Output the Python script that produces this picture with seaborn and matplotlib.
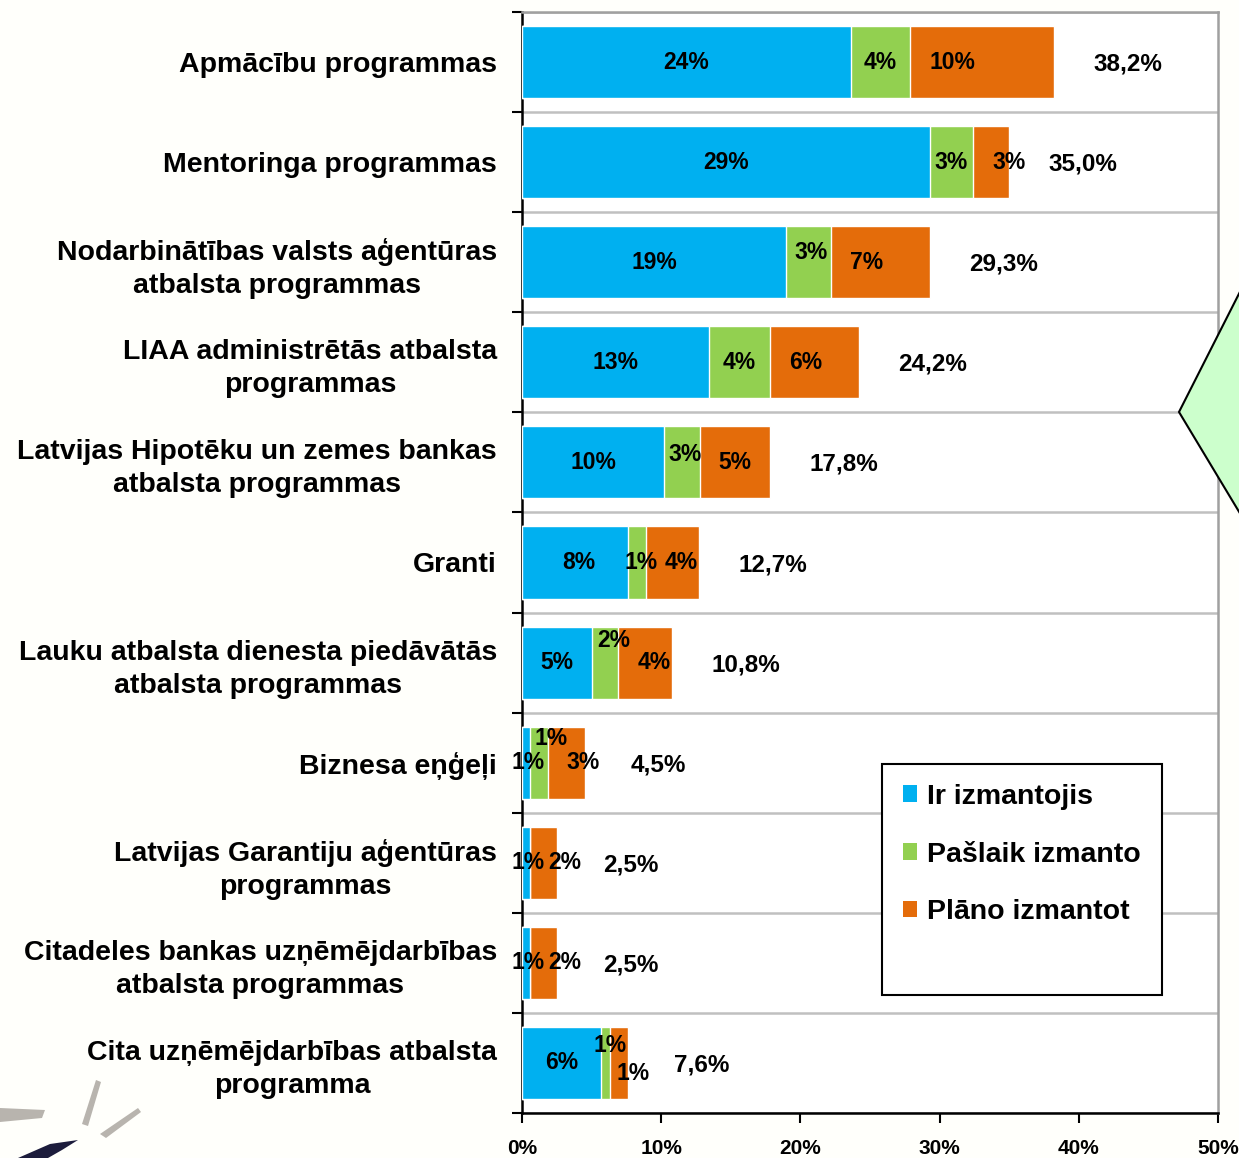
import matplotlib
matplotlib.use("Agg")
import matplotlib.pyplot as plt
import seaborn as sns
import pandas as pd
from matplotlib.patches import Patch, Rectangle, Polygon

# data (percent of respondents)
programs = [
    "Apmācību programmas",
    "Mentoringa programmas",
    "Nodarbinātības valsts aģentūras\natbalsta programmas",
    "LIAA administrētās atbalsta\nprogrammas",
    "Latvijas Hipotēku un zemes bankas\natbalsta programmas",
    "Granti",
    "Lauku atbalsta dienesta piedāvātās\natbalsta programmas",
    "Biznesa eņģeļi",
    "Latvijas Garantiju aģentūras\nprogrammas",
    "Citadeles bankas uzņēmējdarbības\natbalsta programmas",
    "Cita uzņēmējdarbības atbalsta\nprogramma",
]
used = [23.6, 29.3, 19.0, 13.4, 10.2, 7.6, 5.0, 0.6, 0.6, 0.6, 5.7]
using_now = [4.3, 3.1, 3.2, 4.4, 2.6, 1.3, 1.9, 1.3, 0.0, 0.0, 0.6]
planning = [10.3, 2.6, 7.1, 6.4, 5.0, 3.8, 3.9, 2.6, 1.9, 1.9, 1.3]
series_names = ["Ir izmantojis", "Pašlaik izmanto", "Plāno izmantot"]
colors = ["#00B0F0", "#92D050", "#E46C0A"]
x_ticks = [0, 10, 20, 30, 40, 50]

# hand nudges for the crowded segment labels, (row, series): (dx %, dy rows)
nudge = {
    (0, 2): (-2.1, 0), (1, 2): (1.3, 0),
    (2, 1): (0.2, -0.1), (2, 2): (-1.0, 0), (3, 2): (-0.6, 0),
    (4, 1): (0.2, -0.08),
    (5, 0): (0.3, 0), (5, 1): (0.3, 0), (5, 2): (0.65, 0),
    (6, 1): (0.65, -0.22), (6, 2): (0.65, 0),
    (7, 0): (0.15, 0), (7, 1): (0.85, -0.24), (7, 2): (1.2, 0),
    (8, 0): (0.15, 0), (8, 2): (1.5, 0),
    (9, 0): (0.15, 0), (9, 2): (1.5, 0),
    (10, 1): (0.3, -0.17), (10, 2): (1.0, 0.11),
}

df = pd.DataFrame({"program": programs, "used": used,
                   "now": using_now, "plan": planning})
df["c1"] = df["used"]
df["c2"] = df["used"] + df["now"]
df["c3"] = df["c2"] + df["plan"]

sns.set_style("white")
plt.rcParams["font.family"] = ["Liberation Sans", "DejaVu Sans"]
plt.rcParams["font.weight"] = "bold"
for key in ["text.color", "axes.labelcolor", "xtick.color", "ytick.color"]:
    plt.rcParams[key] = "black"

fig = plt.figure(figsize=(12.39, 11.58), dpi=100, facecolor="#fffffb")
ax = fig.add_axes([522 / 1239, 1 - 1113 / 1158, 696 / 1239, 1101 / 1158])
ax.set_facecolor("white")

for col, c in zip(["c3", "c2", "c1"], colors[::-1]):
    sns.barplot(data=df, x=col, y="program", orient="h", color=c,
                width=0.72, saturation=1, ax=ax, zorder=3)

# segment labels
vals = [used, using_now, planning]
for i in range(len(programs)):
    left = 0
    for s in range(3):
        v = vals[s][i]
        if v > 0:
            dx, dy = nudge.get((i, s), (0, 0))
            ax.text(left + v / 2 + dx, i + dy, f"{v:.0f}%", ha="center",
                    va="center", fontsize=16.5, fontweight="bold", zorder=5)
        left += v
    tot = df["c3"][i]
    ax.text(tot + 5.3, i + 0.02, f"{tot:.1f}".replace(".", ",") + "%",
            ha="center", va="center", fontsize=17.5, fontweight="bold")

ax.set_xlim(0, 50)
ax.set_ylim(len(programs) - 0.5, -0.5)
ax.set_xticks(x_ticks)
ax.set_xticklabels([f"{t}%" for t in x_ticks], fontsize=15, fontweight="bold")
ax.set_xlabel("")
ax.set_ylabel("")

ax.set_yticks([k - 0.5 for k in range(len(programs) + 1)], minor=True)
ax.tick_params(axis="y", which="major", length=0, pad=18, labelsize=20.5)
ax.tick_params(axis="y", which="minor", length=7, width=1.5, direction="out",
               color="black", left=True)
ax.tick_params(axis="x", length=7, width=1.5, direction="out", pad=12,
               color="black", bottom=True)
for lab in ax.get_yticklabels():
    lab.set_fontweight("bold")
    lab.set_multialignment("center")
    lab.set_linespacing(1.35)

ax.grid(False)
ax.yaxis.grid(True, which="minor", color="#c0c0c0", linewidth=1.8, zorder=0)
ax.set_axisbelow(True)
for side in ["left", "bottom"]:
    ax.spines[side].set_color("black")
    ax.spines[side].set_linewidth(1.8)
for side in ["top", "right"]:
    ax.spines[side].set_color("#a0a0a0")
    ax.spines[side].set_linewidth(1.8)

# legend in its own tall box
handles = [Patch(facecolor=c, edgecolor="none") for c in colors]
fig.add_artist(Rectangle((882 / 1239, 1 - 995 / 1158), 280 / 1239, 231 / 1158,
                         transform=fig.transFigure, facecolor="white",
                         edgecolor="black", linewidth=1.5, zorder=6))
leg = fig.legend(handles, series_names, loc="upper left",
                 bbox_to_anchor=(877 / 1239, 1 - 758 / 1158), frameon=False,
                 prop={"size": 20.5, "weight": "bold"}, handlelength=0.5,
                 handleheight=0.5, handletextpad=0.35, labelspacing=1.12)
leg.set_zorder(7)

# callout arrow sticking in from the right edge
fig.add_artist(Polygon([(1179 / 1239, 1 - 412 / 1158), (1250 / 1239, 1 - 272 / 1158),
                        (1250 / 1239, 1 - 530 / 1158)], closed=True,
                       transform=fig.transFigure, facecolor="#CCFFCC",
                       edgecolor="black", linewidth=1.5, zorder=8))

# logo fragments in the bottom-left corner
def px(x, y):
    return (x / 1239, 1 - y / 1158)

for pts, c in [
    ([px(0, 1108), px(45, 1110), px(42, 1118), px(0, 1122)], "#b8b4ae"),
    ([px(96, 1080), px(101, 1082), px(88, 1126), px(82, 1124)], "#b8b4ae"),
    ([px(138, 1108), px(141, 1112), px(106, 1138), px(100, 1134)], "#b8b4ae"),
    ([px(18, 1158), px(50, 1144), px(78, 1140), px(62, 1150), px(48, 1158)],
     "#1c1c3c"),
]:
    fig.add_artist(Polygon(pts, closed=True, transform=fig.transFigure,
                           facecolor=c, edgecolor="none"))

fig.savefig("out.png", dpi=100, facecolor=fig.get_facecolor())
